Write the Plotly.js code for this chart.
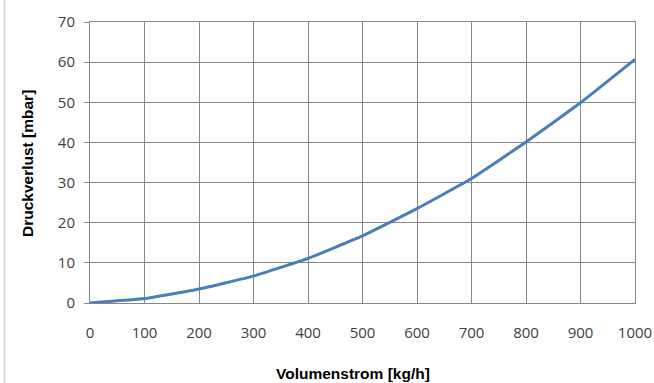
<!DOCTYPE html>
<html><head><meta charset="utf-8">
<script src="https://cdn.plot.ly/plotly-3.0.1.min.js"></script>
<style>html,body{margin:0;padding:0;background:#fff}#c{width:654px;height:383px}</style>
</head><body><div id="c"></div>
<script>
const volumenstrom = [0, 100, 200, 300, 400, 500, 600, 700, 800, 900, 1000];
const druckverlust = [0, 1.1, 3.5, 6.7, 11.1, 16.7, 23.5, 31.0, 40.1, 49.9, 60.7];
const xTicks = [0, 100, 200, 300, 400, 500, 600, 700, 800, 900, 1000];
const yTicks = [0, 10, 20, 30, 40, 50, 60, 70];
const xTitle = 'Volumenstrom [kg/h]';
const yTitle = 'Druckverlust [mbar]';

const tickFont = {family: '"Open Sans", Lato, sans-serif', size: 15, color: '#404040'};
const titleFont = {family: '"Liberation Sans", Arial, sans-serif', size: 15.5, color: '#000', weight: 'bold'};

Plotly.newPlot('c', [{
  x: volumenstrom, y: druckverlust, type: 'scatter', mode: 'lines',
  line: {color: '#4a7ebb', width: 3, shape: 'spline', smoothing: 0.3},
  hoverinfo: 'skip'
}], {
  width: 654, height: 383,
  margin: {l: 90, r: 19, t: 22, b: 80},
  paper_bgcolor: '#fff', plot_bgcolor: '#fff',
  showlegend: false,
  xaxis: {
    range: [0, 1000], tickvals: xTicks, ticktext: xTicks.map(String),
    showgrid: true, gridcolor: '#868686', gridwidth: 1,
    showline: true, linecolor: '#868686', linewidth: 1, mirror: true,
    ticks: '', ticklabelstandoff: 16, tickfont: tickFont, zeroline: false, fixedrange: true
  },
  yaxis: {
    range: [0, 70], tickvals: yTicks, ticktext: yTicks.map(String),
    showgrid: true, gridcolor: '#868686', gridwidth: 1,
    showline: true, linecolor: '#868686', linewidth: 1, mirror: true,
    ticks: 'outside', ticklen: 5, tickcolor: '#868686', ticklabelstandoff: 6,
    tickfont: tickFont, zeroline: false, fixedrange: true
  },
  annotations: [
    {text: '<b>' + xTitle + '</b>', xref: 'paper', yref: 'paper',
     x: (353 - 90) / 545, y: -(373 - 303) / 281, xanchor: 'center', yanchor: 'middle',
     showarrow: false, font: titleFont},
    {text: '<b>' + yTitle + '</b>', xref: 'paper', yref: 'paper', textangle: -90,
     x: (28 - 90) / 545, y: (303 - 164) / 281, xanchor: 'center', yanchor: 'middle',
     showarrow: false, font: titleFont}
  ],
  shapes: [
    {type: 'line', xref: 'paper', yref: 'paper', x0: (4.5 - 90) / 545, x1: (4.5 - 90) / 545,
     y0: -80 / 281, y1: 303 / 281, line: {color: '#d9d9d9', width: 2}}
  ]
}, {displayModeBar: false, staticPlot: true});
</script></body></html>
